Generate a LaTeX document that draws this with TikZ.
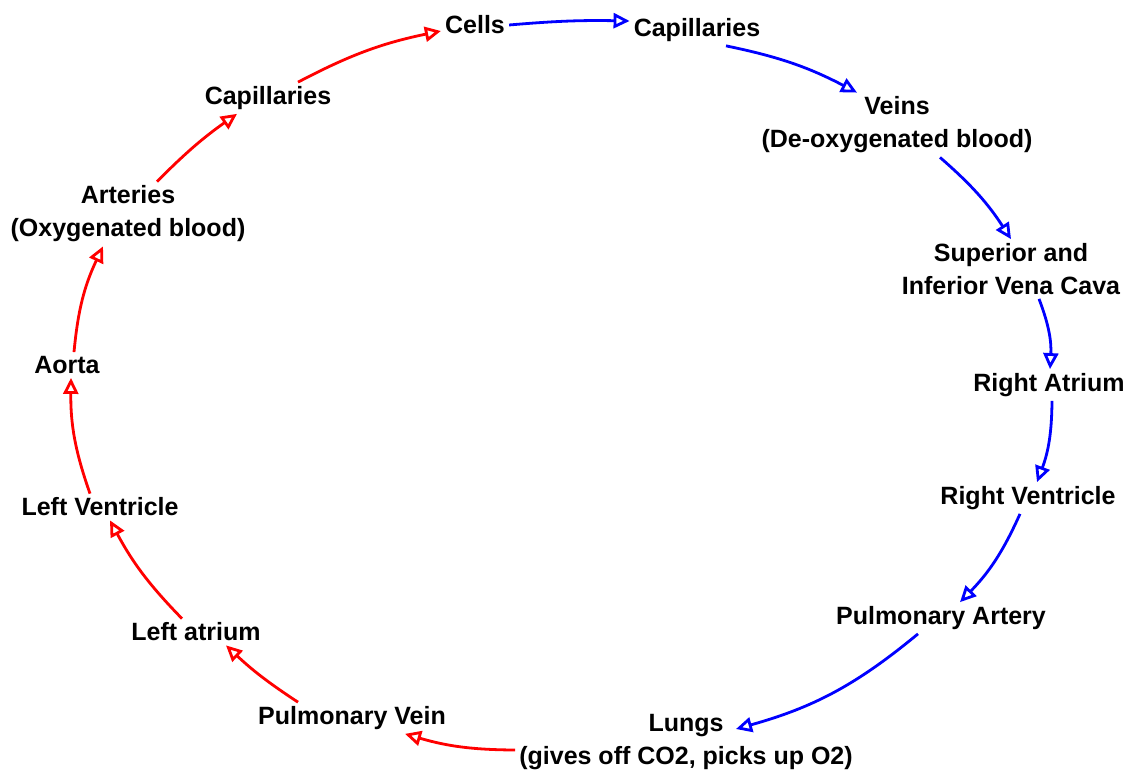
\documentclass[tikz,border=0pt]{standalone}
\usepackage{fontspec}
\setmainfont{Liberation Sans}
\usetikzlibrary{arrows.meta}

\begin{document}
\begin{tikzpicture}[x=1pt,y=-1pt,
  organ/.style={font=\fontsize{25}{33}\selectfont\bfseries, align=center, inner sep=4pt},
  oxy/.style={draw=red, line width=2.8pt, -{Triangle[open,length=16pt,width=15pt]}},
  deoxy/.style={oxy, draw=blue}]

\useasboundingbox (0,0) rectangle (1139,774);

\node[organ] (cells) at (475,25) {Cells};
\node[organ] (capR) at (697,30) {Capillaries};
\node[organ] (veins) at (897,125) {Veins\\(De-oxygenated blood)};
\node[organ] (vena) at (1011,269) {Superior and\\Inferior Vena Cava};
\node[organ] (ratrium) at (1049,385) {Right Atrium};
\node[organ] (rvent) at (1028,498) {Right Ventricle};
\node[organ] (partery) at (941,618) {Pulmonary Artery};
\node[organ] (lungs) at (686,742) {Lungs\\(gives off CO2, picks up O2)};
\node[organ] (pvein) at (352,718) {Pulmonary Vein};
\node[organ] (latrium) at (196,632) {Left atrium};
\node[organ] (lvent) at (100,507) {Left Ventricle};
\node[organ] (aorta) at (67,365) {Aorta};
\node[organ] (arteries) at (128,214) {Arteries\\(Oxygenated blood)};
\node[organ] (capL) at (268,98) {Capillaries};

% de-oxygenated side
\draw[deoxy] (cells.east) to[bend left=3] ([yshift=9pt]capR.west);
\draw[deoxy] ([xshift=29pt]capR.south) to[bend left=8] ([xshift=-40pt]veins.north);
\draw[deoxy] ([xshift=43pt]veins.south) to[bend left=8] (vena.north);
\draw[deoxy] ([xshift=28pt]vena.south) to[bend left=12] ([xshift=1pt]ratrium.north);
\draw[deoxy] ([xshift=3pt]ratrium.south) to[bend left=10] ([xshift=9pt]rvent.north);
\draw[deoxy] ([xshift=-8pt]rvent.south) to[bend left=10] ([xshift=19pt]partery.north);
\draw[deoxy] ([xshift=-23pt]partery.south) to[bend left=12] ([shift={(50pt,13pt)}]lungs.center);

% oxygenated side
\draw[oxy] ([yshift=-8pt]lungs.west) to[bend left=8] ([xshift=53pt]pvein.south);
\draw[oxy] ([xshift=-54pt]pvein.north) to[bend left=5] ([xshift=30pt]latrium.south);
\draw[oxy] ([xshift=-14pt]latrium.north) to[bend left=8] ([xshift=10pt]lvent.south);
\draw[oxy] ([xshift=-10pt]lvent.north) to[bend left=10] ([xshift=4pt]aorta.south);
\draw[oxy] ([xshift=7pt]aorta.north) to[bend left=10] ([xshift=-25pt]arteries.south);
\draw[oxy] ([xshift=29pt]arteries.north) to[bend left=5] ([xshift=-31pt]capL.south);
\draw[oxy] ([xshift=30pt]capL.north) to[bend left=8] ([yshift=-6pt]cells.west);

\end{tikzpicture}
\end{document}
